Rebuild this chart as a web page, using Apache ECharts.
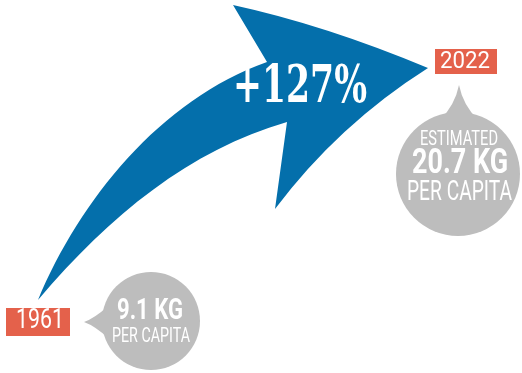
<!DOCTYPE html>
<html><head><meta charset="utf-8">
<script src="https://cdn.jsdelivr.net/npm/echarts@6/dist/echarts.min.js"></script>
<style>html,body{margin:0;padding:0;background:#fff}#c{width:522px;height:373px}</style>
</head><body><div id="c"></div>
<script>
// ---- data ----
const years = ['1961', '2022'];
const values = [9.1, 20.7];
const unit = 'KG';
const subLabel = 'PER CAPITA';
const notes = ['', 'ESTIMATED'];
const changePct = Math.round((values[1] / values[0] - 1) * 100);
const changeLabel = '+' + changePct + '%';

// ---- styles ----
const BLUE = '#046FAB', RED = '#E4614B', GREY = '#BDBDBD';
const SANS = 'Roboto, "Noto Sans", sans-serif';
const SERIF = '"DejaVu Serif", "Liberation Serif", serif';

const ctx = document.createElement('canvas').getContext('2d');
function fitText(text, cx, capCenter, size, weight, family, width, fill) {
  const font = weight + ' ' + size + 'px ' + family;
  ctx.font = font;
  const w = ctx.measureText(text).width || 1;
  return {
    type: 'text', x: cx, y: capCenter, scaleX: width / w, z: 10,
    style: {
      text: text, x: 0, y: 0, font: font, fill: fill || '#fff',
      textAlign: 'center', textVerticalAlign: 'middle', align: 'center', verticalAlign: 'middle'
    }
  };
}

echarts.graphic.registerShape('arrowShape', echarts.graphic.extendPath(
  'M38 300 C80 200 160 100 267 62 L233 5 Q325 25 428 68 Q338.6 124.5 275 209 L287 122 C190 150 110 215 38 300 Z', {}));
echarts.graphic.registerShape('pointerLeft', echarts.graphic.extendPath(
  'M108 306 Q95 318 84 322 Q95 326 108 338 Z', {}));
echarts.graphic.registerShape('pointerUp', echarts.graphic.extendPath(
  'M440 120 Q455 105 459 85 Q463 105 478 120 Z', {}));

const fmt = v => v.toFixed(1) + ' ' + unit;

const chart = echarts.init(document.getElementById('c'), null, { renderer: 'canvas' });
chart.setOption({
  backgroundColor: '#fff',
  animation: false,
  graphic: { elements: [
    // arrow
    { type: 'arrowShape', style: { fill: BLUE }, z: 1 },
    fitText(changeLabel, 300, 88, 53, 'bold', SERIF, 134),

    // 1961 bubble
    { type: 'circle', shape: { cx: 151, cy: 321, r: 49 }, style: { fill: GREY }, z: 2 },
    { type: 'pointerLeft', style: { fill: GREY }, z: 2 },
    fitText(fmt(values[0]), 150, 311.5, 30, 'bold', SANS, 66),
    fitText(subLabel, 151, 336.5, 21, 'normal', SANS, 78),

    // 1961 label
    { type: 'rect', shape: { x: 6, y: 308, width: 64, height: 28 }, style: { fill: RED }, z: 3 },
    fitText(years[0], 40, 321, 28, 'normal', SANS, 48),

    // 2022 bubble
    { type: 'circle', shape: { cx: 458, cy: 174, r: 62 }, style: { fill: GREY }, z: 2 },
    { type: 'pointerUp', style: { fill: GREY }, z: 2 },
    fitText(notes[1], 459, 139.5, 21, 'normal', SANS, 78),
    fitText(fmt(values[1]), 460, 164.5, 35, 'bold', SANS, 96),
    fitText(subLabel, 459.5, 193, 28, 'normal', SANS, 105),

    // 2022 label
    { type: 'rect', shape: { x: 435, y: 49, width: 62, height: 25 }, style: { fill: RED }, z: 3 },
    fitText(years[1], 465, 61.5, 24, 'normal', SANS, 50)
  ]}
});
</script>
</body></html>
